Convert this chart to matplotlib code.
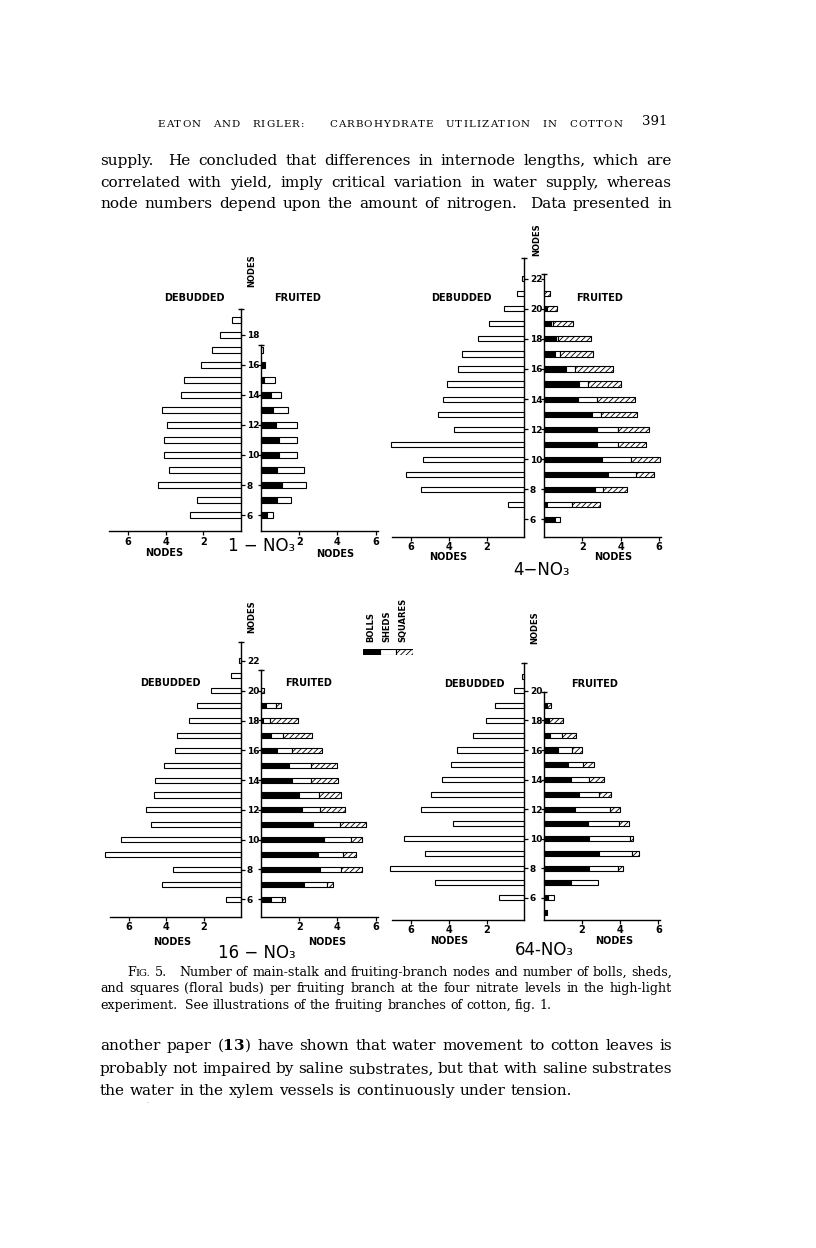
import re
import matplotlib
matplotlib.use("Agg")
import matplotlib.pyplot as plt
import numpy as np

plt.rcParams['mathtext.fontset'] = 'dejavuserif'
plt.rcParams['hatch.linewidth'] = 0.6

SERIF = "DejaVu Serif"
SANS = "DejaVu Sans"

# ---- data (nodes per branch) ----
# 1-NO3
P1_DEB_NODES = [6, 7, 8, 9, 10, 11, 12, 13, 14, 15, 16, 17, 18, 19]
P1_DEBUDDED = [2.71, 2.36, 4.4, 3.81, 4.08, 4.08, 3.92, 4.18, 3.2, 3.03, 2.15, 1.56, 1.12, 0.5]
P1_FRU_NODES = [6, 7, 8, 9, 10, 11, 12, 13, 14, 15, 16, 17]
P1_BOLLS = [0.3, 0.85, 1.08, 0.82, 0.96, 0.96, 0.78, 0.64, 0.52, 0.17, 0.15, 0]
P1_SHEDS = [0.31, 0.7, 1.27, 1.42, 0.94, 0.95, 1.13, 0.79, 0.51, 0.56, 0.08, 0.1]
P1_SQUARES = [0, 0, 0, 0, 0, 0, 0, 0, 0, 0, 0, 0]

# 4-NO3
P2_DEB_NODES = [7, 8, 9, 10, 11, 12, 13, 14, 15, 16, 17, 18, 19, 20, 21, 22]
P2_DEBUDDED = [0.85, 5.47, 6.28, 5.36, 7.07, 3.74, 4.55, 4.29, 4.1, 3.53, 3.28, 2.43, 1.85, 1.1, 0.4, 0.12]
P2_FRU_NODES = [6, 7, 8, 9, 10, 11, 12, 13, 14, 15, 16, 17, 18, 19, 20, 21]
P2_BOLLS = [0.55, 0.16, 2.65, 3.35, 3.05, 2.79, 2.79, 2.48, 1.78, 1.82, 1.12, 0.56, 0.6, 0.33, 0.12, 0]
P2_SHEDS = [0.25, 1.27, 0.44, 1.48, 1.52, 1.08, 1.08, 0.52, 0.98, 0.48, 0.48, 0.26, 0.1, 0.14, 0, 0]
P2_SQUARES = [0, 1.47, 1.24, 0.93, 1.5, 1.45, 1.63, 1.89, 1.99, 1.7, 2.0, 1.76, 1.74, 1.05, 0.53, 0.3]

# 16-NO3
P3_DEB_NODES = [6, 7, 8, 9, 10, 11, 12, 13, 14, 15, 16, 17, 18, 19, 20, 21, 22]
P3_DEBUDDED = [0.83, 4.2, 3.62, 7.23, 6.38, 4.82, 5.09, 4.63, 4.57, 4.1, 3.53, 3.4, 2.78, 2.38, 1.61, 0.57, 0.1]
P3_FRU_NODES = [6, 7, 8, 9, 10, 11, 12, 13, 14, 15, 16, 17, 18, 19, 20]
P3_BOLLS = [0.52, 2.24, 3.08, 2.99, 3.29, 2.7, 2.16, 2.0, 1.63, 1.46, 0.85, 0.52, 0.12, 0.24, 0]
P3_SHEDS = [0.56, 1.19, 1.09, 1.31, 1.44, 1.42, 0.92, 1.04, 1.01, 1.18, 0.75, 0.61, 0.35, 0.53, 0]
P3_SQUARES = [0.17, 0.34, 1.13, 0.69, 0.57, 1.39, 1.32, 1.17, 1.39, 1.36, 1.6, 1.55, 1.48, 0.26, 0.15]

# 64-NO3
P4_DEB_NODES = [6, 7, 8, 9, 10, 11, 12, 13, 14, 15, 16, 17, 18, 19, 20, 21]
P4_DEBUDDED = [1.35, 4.74, 7.1, 5.26, 6.37, 3.77, 5.5, 4.97, 4.34, 3.89, 3.59, 2.71, 2.05, 1.56, 0.55, 0.1]
P4_FRU_NODES = [5, 6, 7, 8, 9, 10, 11, 12, 13, 14, 15, 16, 17, 18, 19]
P4_BOLLS = [0.15, 0.24, 1.43, 2.37, 2.91, 2.37, 2.34, 1.64, 1.85, 1.43, 1.26, 0.73, 0.33, 0.3, 0.15]
P4_SHEDS = [0, 0.28, 1.43, 1.54, 1.7, 2.15, 1.6, 1.83, 1.06, 0.96, 0.82, 0.74, 0.61, 0, 0]
P4_SQUARES = [0, 0, 0, 0.26, 0.39, 0.17, 0.53, 0.54, 0.6, 0.75, 0.57, 0.52, 0.74, 0.7, 0.22]

TITLES = ["1 − NO₃", "4−NO₃", "16 − NO₃", "64-NO₃"]
X_TICKS = [2, 4, 6]
LEGEND_LABELS = ["BOLLS", "SHEDS", "SQUARES"]
LEGEND_WIDTHS = [1, 1, 1]

HEADER = "EATON AND RIGLER:  CARBOHYDRATE UTILIZATION IN COTTON"
PAGE_NO = "391"
BODY_TOP = [
    "supply.  He concluded that differences in internode lengths, which are",
    "correlated with yield, imply critical variation in water supply, whereas",
    "node numbers depend upon the amount of nitrogen.  Data presented in",
]
CAPTION = [
    "FIG. 5.   Number of main-stalk and fruiting-branch nodes and number of bolls, sheds,",
    "and squares (floral buds) per fruiting branch at the four nitrate levels in the high-light",
    "experiment.  See illustrations of the fruiting branches of cotton, fig. 1.",
]
BODY_BOTTOM = [
    "another paper ($\\mathbf{13}$) have shown that water movement to cotton leaves is",
    "probably not impaired by saline substrates, but that with saline substrates",
    "the water in the xylem vessels is continuously under tension.",
]

W, H = 816, 1248
fig = plt.figure(figsize=(W / 100, H / 100), dpi=100)
fig.patch.set_facecolor("white")
renderer = fig.canvas.get_renderer()


def put(x, y, s, **kw):
    return fig.text(x / W, 1 - y / H, s, **kw)


def px_axes(x0, y0, x1, y1):
    ax = fig.add_axes([x0 / W, 1 - y1 / H, (x1 - x0) / W, (y1 - y0) / H])
    ax.patch.set_alpha(0)
    return ax


def width_of(s, size, **kw):
    t = put(0, 0, s, fontsize=size, **kw)
    w = t.get_window_extent(renderer=renderer).width
    t.remove()
    return w


def parts_of(word):
    if word == "FIG.":
        return [("F", 1.0), ("IG.", 0.78)]
    return [(word, 1.0)]


def word_width(word, size, tracking):
    total = 0
    for s, f in parts_of(word):
        if tracking:
            total += sum(width_of(c, size * f, family=SERIF) + tracking for c in s) - tracking
        else:
            total += width_of(s, size * f, family=SERIF)
    return total


def draw_word(word, x, base, size, tracking):
    for s, f in parts_of(word):
        if tracking:
            for c in s:
                put(x, base, c, fontsize=size * f, family=SERIF, va="baseline")
                x += width_of(c, size * f, family=SERIF) + tracking
        else:
            put(x, base, s, fontsize=size * f, family=SERIF, va="baseline")
            x += width_of(s, size * f, family=SERIF)


def set_line(line, x0, x1, base, size, justify=True, tracking=0):
    words = re.findall(r"\S+", line)
    gaps = [len(g) for g in re.findall(r" +", line.strip())]
    widths = [word_width(w, size, tracking) for w in words]
    sp = width_of("n n", size, family=SERIF) - 2 * width_of("n", size, family=SERIF)
    if justify and gaps:
        unit = max((x1 - x0 - sum(widths)) / sum(gaps), 0.5 * sp)
    else:
        unit = sp
    x = x0
    for i, w in enumerate(words):
        draw_word(w, x, base, size, tracking)
        x += widths[i]
        if i < len(gaps):
            x += unit * gaps[i]


def draw_panel(g, deb_nodes, deb, fru_nodes, bolls, sheds, squares, title, lab):
    def ypx(n):
        return g["y6"] - g["s"] * (n - 6)

    xl_max, xr_max = 7.0, 6.1
    h = 0.34
    lw = 0.8

    # debudded (left)
    axl = px_axes(g["xl0"] - xl_max * g["ul"], ypx(g["ltop"]), g["xl0"], ypx(g["ybot"]))
    axl.set_xlim(xl_max, 0)
    axl.set_ylim(g["ybot"], g["ltop"])
    dn = np.array(deb_nodes)
    dv = np.array(deb)
    m = dv > 0
    axl.barh(dn[m], dv[m], height=h, color="white", edgecolor="black", lw=lw, clip_on=False)
    for sp in ["top", "left"]:
        axl.spines[sp].set_visible(False)
    for sp in ["right", "bottom"]:
        axl.spines[sp].set_linewidth(1.0)
    axl.set_xticks(X_TICKS)
    axl.set_xticklabels([str(t) for t in X_TICKS], fontsize=7, fontweight="bold", family=SANS)
    axl.yaxis.tick_right()
    yt = list(range(6, g["ntop"] + 1, 2))
    axl.set_yticks(yt)
    axl.set_yticklabels([str(t) for t in yt], fontsize=6.5, fontweight="bold", family=SANS)
    axl.tick_params(axis="x", direction="out", length=3, width=0.9, pad=1)
    axl.tick_params(axis="y", direction="out", length=3, width=0.9, pad=1)
    axl.plot([0], [g["ltop"]], marker="_", ms=5, mew=1.0, color="black", clip_on=False)

    # fruited (right)
    axr = px_axes(g["xr0"], ypx(g["rtop"]), g["xr0"] + xr_max * g["ur"], ypx(g["ybot"]))
    axr.set_xlim(0, xr_max)
    axr.set_ylim(g["ybot"], g["rtop"])
    fn = np.array(fru_nodes)
    b = np.array(bolls)
    s = np.array(sheds)
    q = np.array(squares)
    m = b > 0
    axr.barh(fn[m], b[m], height=h, color="black", edgecolor="black", lw=lw, clip_on=False)
    m = s > 0
    axr.barh(fn[m], s[m], left=b[m], height=h, color="white", edgecolor="black", lw=lw, clip_on=False)
    m = q > 0
    axr.barh(fn[m], q[m], left=(b + s)[m], height=h, color="white", edgecolor="black",
             hatch="//////", lw=lw, clip_on=False)
    for sp in ["top", "right"]:
        axr.spines[sp].set_visible(False)
    for sp in ["left", "bottom"]:
        axr.spines[sp].set_linewidth(1.0)
    axr.set_xticks(X_TICKS)
    axr.set_xticklabels([str(t) for t in X_TICKS], fontsize=7, fontweight="bold", family=SANS)
    axr.set_yticks(list(range(6, int(g["rtop"]) + 1, 2)))
    axr.set_yticklabels([])
    axr.tick_params(axis="x", direction="out", length=3, width=0.9, pad=1)
    axr.tick_params(axis="y", direction="out", length=2.5, width=0.9)
    axr.plot([0], [g["rtop"]], marker="_", ms=4, mew=1.0, color="black", clip_on=False)

    bold = dict(fontsize=7, fontweight="bold", family=SANS, ha="center", va="center")
    put(*lab["deb"], "DEBUDDED", **bold)
    put(*lab["fru"], "FRUITED", **bold)
    put(*lab["nl"], "NODES", **bold)
    put(*lab["nr"], "NODES", **bold)
    put(*lab["nv"], "NODES", fontsize=6, fontweight="bold", family=SANS,
        rotation=90, ha="center", va="center")
    put(*lab["title"], title, fontsize=12, family=SANS, ha="center", va="center")


G1 = dict(xl0=241, ul=18.8, xr0=261, ur=19.1, y6=515, s=15.0, ybot=4.93, ltop=19.73, rtop=17.33, ntop=18)
G2 = dict(xl0=524.3, ul=18.9, xr0=544.3, ur=19.05, y6=519.3, s=15.03, ybot=4.85, ltop=23.4, rtop=22.3, ntop=22)
G3 = dict(xl0=241.3, ul=18.8, xr0=261, ur=19.1, y6=899.3, s=14.9, ybot=4.84, ltop=23.3, rtop=21.4, ntop=22)
G4 = dict(xl0=524.3, ul=18.85, xr0=543.7, ur=19.1, y6=897.7, s=14.77, ybot=4.5, ltop=21.9, rtop=19.9, ntop=20)

L1 = dict(deb=(194, 298), fru=(298, 298), nv=(251.7, 271), nl=(164.5, 553), nr=(335, 554), title=(262, 546))
L2 = dict(deb=(461, 298), fru=(600, 298), nv=(536.7, 240), nl=(447.7, 557), nr=(612.7, 557), title=(541, 570))
L3 = dict(deb=(170.5, 683), fru=(309, 683), nv=(251.7, 617), nl=(172.5, 942), nr=(326.7, 942), title=(257, 953))
L4 = dict(deb=(474, 684), fru=(595, 684), nv=(535, 627.5), nl=(449.3, 941), nr=(614.3, 941), title=(544, 950))

draw_panel(G1, P1_DEB_NODES, P1_DEBUDDED, P1_FRU_NODES, P1_BOLLS, P1_SHEDS, P1_SQUARES, TITLES[0], L1)
draw_panel(G2, P2_DEB_NODES, P2_DEBUDDED, P2_FRU_NODES, P2_BOLLS, P2_SHEDS, P2_SQUARES, TITLES[1], L2)
draw_panel(G3, P3_DEB_NODES, P3_DEBUDDED, P3_FRU_NODES, P3_BOLLS, P3_SHEDS, P3_SQUARES, TITLES[2], L3)
draw_panel(G4, P4_DEB_NODES, P4_DEBUDDED, P4_FRU_NODES, P4_BOLLS, P4_SHEDS, P4_SQUARES, TITLES[3], L4)

# legend key
axk = px_axes(363, 649, 413, 655)
axk.set_xlim(0, sum(LEGEND_WIDTHS))
axk.set_ylim(-0.5, 0.5)
lefts = np.cumsum([0] + LEGEND_WIDTHS[:-1])
axk.barh([0], [LEGEND_WIDTHS[0]], left=lefts[0], height=1, color="black", edgecolor="black", lw=0.8)
axk.barh([0], [LEGEND_WIDTHS[1]], left=lefts[1], height=1, color="white", edgecolor="black", lw=0.8)
axk.barh([0], [LEGEND_WIDTHS[2]], left=lefts[2], height=1, color="white", edgecolor="black",
         hatch="//////", lw=0.8)
axk.axis("off")
for lbl, x in zip(LEGEND_LABELS, [370.7, 387.3, 403.3]):
    put(x, 642, lbl, fontsize=6, fontweight="bold", family=SANS, rotation=90, ha="center", va="bottom")

# page text
set_line(HEADER, 157, 622, 126.7, 7.4, justify=True, tracking=1.1)
put(667, 125, PAGE_NO, fontsize=9.5, family=SERIF, ha="right", va="baseline")

BODY_SIZE = 11.0
CAP_SIZE = 9.1

for i, line in enumerate(BODY_TOP):
    set_line(line, 100, 672, [165, 186.7, 208][i], BODY_SIZE)

cap_base = [975.7, 992.3, 1008.6]
set_line(CAPTION[0], 127, 672, cap_base[0], CAP_SIZE)
set_line(CAPTION[1], 100, 672, cap_base[1], CAP_SIZE)
set_line(CAPTION[2], 100, 672, cap_base[2], CAP_SIZE, justify=False)

bot_base = [1050, 1073, 1095]
set_line(BODY_BOTTOM[0], 100, 672, bot_base[0], BODY_SIZE)
set_line(BODY_BOTTOM[1], 100, 672, bot_base[1], BODY_SIZE)
set_line(BODY_BOTTOM[2], 100, 672, bot_base[2], BODY_SIZE, justify=False)

put(147, 1101, ".", fontsize=5, color="#888888", ha="center", va="center")

fig.savefig("out.png", dpi=100)
